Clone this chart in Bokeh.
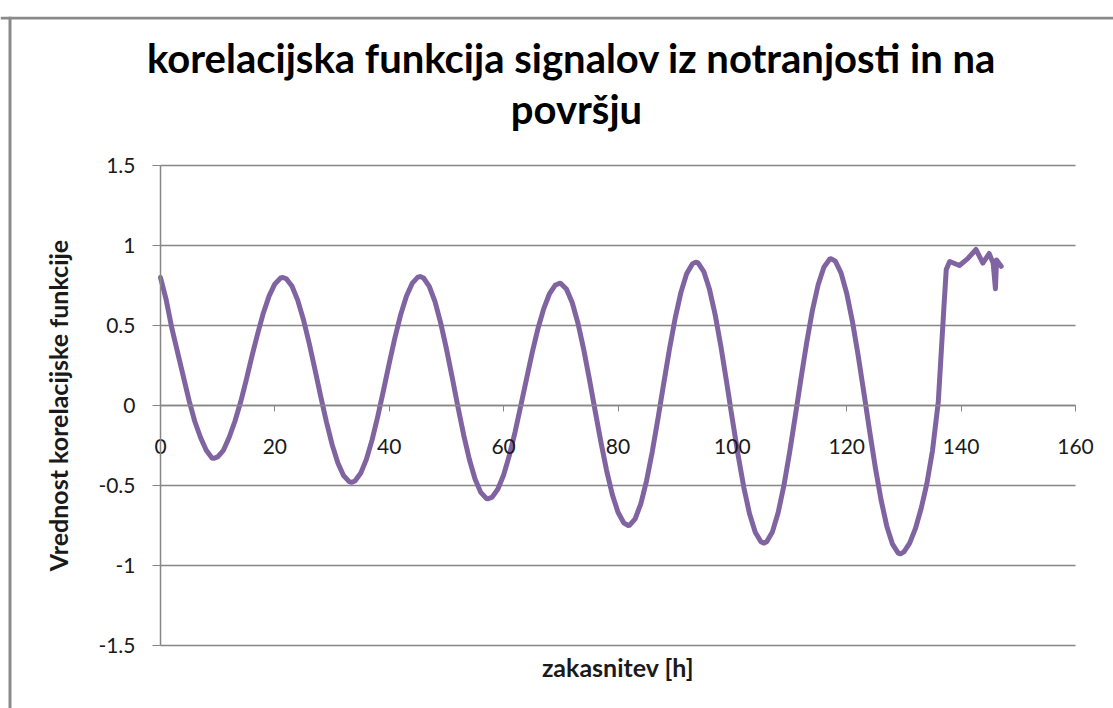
from bokeh.plotting import figure
from bokeh.models import Range1d, FixedTicker, Label, Span, Grid
from bokeh.embed import file_html
from bokeh.resources import INLINE

# ---- data ----
lag_h = [
    0, 1, 2, 3, 4, 5, 6, 7, 8, 9, 9.3,
    10, 11, 12, 13, 14, 15, 16, 17, 18, 19, 20, 21, 21.4,
    22, 23, 24, 25, 26, 27, 28, 29, 30, 31, 32, 33, 33.4,
    34, 35, 36, 37, 38, 39, 40, 41, 42, 43, 44, 45, 45.4,
    46, 47, 48, 49, 50, 51, 52, 53, 54, 55, 56, 57, 57.3,
    58, 59, 60, 61, 62, 63, 64, 65, 66, 67, 68, 69, 69.8,
    70, 71, 72, 73, 74, 75, 76, 77, 78, 79, 80, 81, 81.8,
    82, 83, 84, 85, 86, 87, 88, 89, 90, 91, 92, 93, 93.6,
    94, 95, 96, 97, 98, 99, 100, 101, 102, 103, 104, 105, 105.5,
    106, 107, 108, 109, 110, 111, 112, 113, 114, 115, 116, 117, 117.3,
    118, 119, 120, 121, 122, 123, 124, 125, 126, 127, 128, 129, 129.4,
    130, 131, 132, 133, 134, 135, 136, 137, 137.4,
    138, 139.7, 141.2, 142.6, 143.8, 144.9, 145.6, 146.0, 146.2, 146.6, 147.0,
]
corr = [
    0.80, 0.66, 0.48, 0.33, 0.18, 0.03, -0.10, -0.20, -0.28, -0.328, -0.33,
    -0.321, -0.28, -0.20, -0.10, 0.02, 0.16, 0.31, 0.45, 0.58, 0.685, 0.76, 0.797, 0.80,
    0.792, 0.745, 0.657, 0.536, 0.389, 0.227, 0.060, -0.100, -0.243, -0.358, -0.438, -0.476, -0.48,
    -0.472, -0.424, -0.337, -0.215, -0.067, 0.096, 0.264, 0.425, 0.568, 0.683, 0.763, 0.802, 0.806,
    0.797, 0.745, 0.649, 0.515, 0.354, 0.176, -0.007, -0.182, -0.336, -0.459, -0.543, -0.581, -0.583,
    -0.573, -0.522, -0.434, -0.312, -0.166, -0.002, 0.166, 0.331, 0.480, 0.604, 0.697, 0.751, 0.764,
    0.763, 0.727, 0.642, 0.514, 0.351, 0.164, -0.033, -0.227, -0.405, -0.556, -0.667, -0.733, -0.75,
    -0.749, -0.708, -0.613, -0.469, -0.287, -0.080, 0.139, 0.352, 0.546, 0.707, 0.823, 0.885, 0.896,
    0.891, 0.837, 0.726, 0.566, 0.368, 0.145, -0.086, -0.310, -0.512, -0.676, -0.792, -0.852, -0.86,
    -0.852, -0.790, -0.670, -0.502, -0.295, -0.066, 0.170, 0.395, 0.595, 0.755, 0.864, 0.914, 0.917,
    0.902, 0.829, 0.700, 0.524, 0.312, 0.079, -0.160, -0.388, -0.590, -0.754, -0.867, -0.922, -0.927,
    -0.915, -0.86, -0.77, -0.645, -0.49, -0.28, 0.02, 0.62, 0.85,
    0.90, 0.875, 0.92, 0.975, 0.89, 0.95, 0.89, 0.73, 0.91, 0.89, 0.87,
]

x_ticks = [0, 20, 40, 60, 80, 100, 120, 140, 160]
y_ticks = [-1.5, -1.0, -0.5, 0.0, 0.5, 1.0, 1.5]
y_tick_labels = ["-1.5", "-1", "-0.5", "0", "0.5", "1", "1.5"]

title_lines = ["korelacijska funkcija  signalov iz notranjosti in na", "površju"]
x_title = "zakasnitev [h]"
y_title = "Vrednost korelacijske funkcije"

FONT = "Lato"
GRID = "#868686"
LINE = "#8064A2"
TXT = "#1a1a1a"

# canvas sits at page (0, 0); frame covers page x 0..1113, y 16..708
PX_PER_X = 915 / 160.0      # plot area 0..160 spans page px 160..1075
PX_PER_Y = 160.0            # plot area -1.5..1.5 spans page px 165..645
X0_PAGE, Y0_PAGE = 160.0, 405.0
W, H, TOP = 1113, 708, 16
x_start = (0 - X0_PAGE) / PX_PER_X
x_end = (W - X0_PAGE) / PX_PER_X
y_top = (Y0_PAGE - TOP) / PX_PER_Y
y_bot = (Y0_PAGE - H) / PX_PER_Y

p = figure(
    width=W, height=H,
    min_border_left=0, min_border_right=0, min_border_top=TOP, min_border_bottom=0,
    x_range=Range1d(x_start, x_end), y_range=Range1d(y_bot, y_top),
    output_backend="svg", toolbar_location=None,
)
p.outline_line_color = None
p.background_fill_color = "white"
p.border_fill_color = "white"

# grid: horizontal lines only across the plot area
p.xgrid.visible = False
if "cross_bounds" in Grid.properties():
    p.ygrid.ticker = FixedTicker(ticks=y_ticks)
    p.ygrid.bounds = (y_ticks[0], y_ticks[-1])
    p.ygrid.cross_bounds = (x_ticks[0], x_ticks[-1])
    p.ygrid.grid_line_color = GRID
    p.ygrid.grid_line_width = 1.3
else:
    p.ygrid.visible = False
    p.segment(x0=[x_ticks[0]] * len(y_ticks), y0=y_ticks,
              x1=[x_ticks[-1]] * len(y_ticks), y1=y_ticks,
              line_color=GRID, line_width=1.3)

# x axis crossing at y = 0
xa = p.xaxis[0]
xa.fixed_location = 0
xa.bounds = (x_ticks[0], x_ticks[-1])
xa.ticker = FixedTicker(ticks=x_ticks)
xa.minor_tick_line_color = None
xa.major_tick_in = 0
xa.major_tick_out = 6
xa.major_tick_line_color = GRID
xa.axis_line_color = GRID
xa.axis_line_width = 1.5
xa.major_label_standoff = 27
xa.major_label_text_font = FONT
xa.major_label_text_font_size = "21px"
xa.major_label_text_color = TXT

# y axis at x = 0
ya = p.yaxis[0]
ya.fixed_location = 0
ya.bounds = (y_ticks[0], y_ticks[-1])
ya.ticker = FixedTicker(ticks=y_ticks)
ya.major_label_overrides = {t: s for t, s in zip(y_ticks, y_tick_labels)}
ya.minor_tick_line_color = None
ya.major_tick_in = 0
ya.major_tick_out = 8
ya.major_tick_line_color = GRID
ya.axis_line_color = GRID
ya.axis_line_width = 1.5
ya.major_label_standoff = 17
ya.major_label_text_font = FONT
ya.major_label_text_font_size = "21px"
ya.major_label_text_color = TXT
ya.axis_label = y_title
ya.axis_label_text_font = FONT
ya.axis_label_text_font_style = "bold"
ya.axis_label_text_font_size = "25px"
ya.axis_label_text_color = TXT
ya.axis_label_standoff = 22

# chart-area border (left and top), as in the reference
p.add_layout(Span(location=(9.5 - X0_PAGE) / PX_PER_X, dimension="height",
                  line_color="#8a8a8a", line_width=3))
p.add_layout(Span(location=(Y0_PAGE - 17.5) / PX_PER_Y, dimension="width",
                  line_color="#8a8a8a", line_width=3))

# series
p.line(lag_h, corr, line_color=LINE, line_width=5, line_join="round", line_cap="round")

# title (two centred lines) and x-axis title
TITLE_X = (576 - X0_PAGE) / PX_PER_X
p.add_layout(Label(x=TITLE_X, y=(Y0_PAGE - 57.5) / PX_PER_Y, text=title_lines[0],
                   text_align="center", text_baseline="alphabetic", text_font=FONT,
                   text_font_style="bold", text_font_size="40px", text_color="black"))
p.add_layout(Label(x=TITLE_X, y=(Y0_PAGE - 108.5) / PX_PER_Y, text=title_lines[1],
                   text_align="center", text_baseline="alphabetic", text_font=FONT,
                   text_font_style="bold", text_font_size="40px", text_color="black"))
p.add_layout(Label(x=(x_ticks[0] + x_ticks[-1]) / 2, y=(Y0_PAGE - 666) / PX_PER_Y,
                   text=x_title, text_align="center", text_baseline="alphabetic",
                   text_font=FONT, text_font_style="bold", text_font_size="25px",
                   text_color=TXT))

open("out.html", "w").write(file_html(p, INLINE))
